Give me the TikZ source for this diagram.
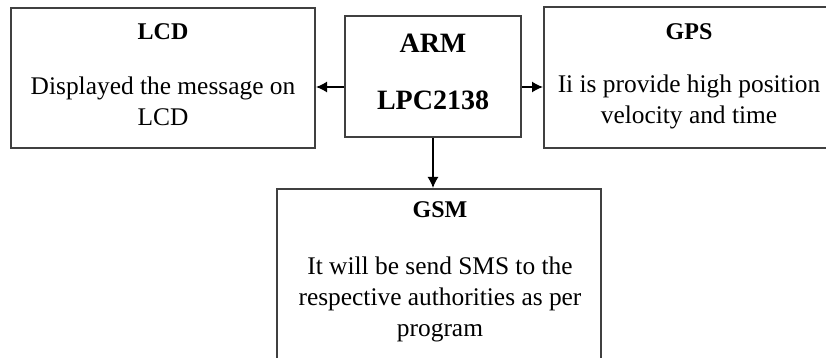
\documentclass[tikz,border=0pt]{standalone}
\usepackage{fontspec}
\setmainfont{Liberation Serif}
\usetikzlibrary{arrows.meta,positioning}
\tikzset{block/.style = {draw=black!75, line width=1pt, inner sep=0pt}}
\tikzset{title/.style = {font=\fontsize{12}{14}\selectfont\bfseries}}
\tikzset{body/.style = {align=center, font=\fontsize{12.7}{15.5}\selectfont}}
\tikzset{chip/.style = {font=\fontsize{14}{16}\selectfont\bfseries}}
\tikzset{link/.style = {-{Latex[length=5.5pt,width=5.5pt]}, line width=0.75pt}}

\begin{document}
\begin{tikzpicture}[x=0.5pt,y=-0.5pt]
\useasboundingbox (0,0) rectangle (826,358);
% controller
\node[block, minimum width=88pt, minimum height=60.5pt] (arm) at (433,76.5) {};
\node[chip] (armt) at (433,43) {ARM};
\node[chip] (armb) at (433,100) {LPC2138};
% display
\node[block, minimum width=152pt, minimum height=70pt] (lcd) at (163,78) {};
\node[title] (lcdt) at (163,32) {LCD};
\node[body] (lcdb) at (163,101.5) {Displayed the message on\\LCD};
% gps
\node[block, minimum width=145pt, minimum height=70.5pt] (gps) at (689,77.5) {};
\node[title] (gpst) at (689,32) {GPS};
\node[body] (gpsb) at (689,101.5) {Ii is provide high position\\velocity and time};
% gsm
\node[block, minimum width=162pt, minimum height=95.5pt] (gsm) at (439,284.5) {};
\node[title] (gsmt) at (440,210) {GSM};
\node[body, text depth=0pt] (gsmb) at (440,297) {It will be send SMS to the\\respective authorities as per\\program};
%
\draw[link] ([yshift=-5.25pt]arm.west) -- ([yshift=-5.25pt]arm.west -| lcd.east);
\draw[link] ([yshift=-5.25pt]arm.east) -- ([yshift=-5.25pt]arm.east -| gps.west);
\draw[link] (arm.south) -- (arm.south |- gsm.north);
\end{tikzpicture}
\end{document}
